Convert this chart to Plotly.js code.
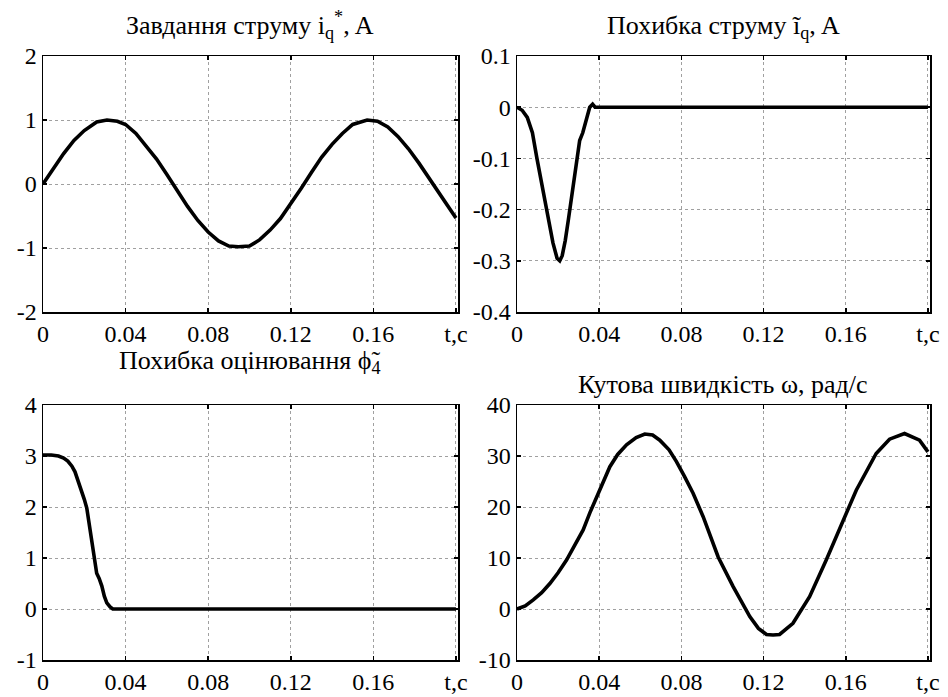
<!DOCTYPE html>
<html>
<head>
<meta charset="utf-8">
<script src="https://cdn.plot.ly/plotly-3.0.1.min.js"></script>
<style>
html,body{margin:0;padding:0;background:#fff;}
#chart{width:948px;height:697px;}
#chart svg text{font-family:'Liberation Serif','Times New Roman',serif !important;}
</style>
</head>
<body>
<div id="chart"></div>
<script>
// ---- data ----
const tIq = [0, 0.005, 0.01, 0.015, 0.02, 0.026, 0.031, 0.036, 0.04, 0.045, 0.05, 0.055, 0.06, 0.065, 0.07, 0.075, 0.08, 0.085, 0.09, 0.0946, 0.1, 0.105, 0.11, 0.115, 0.12, 0.125, 0.13, 0.135, 0.14, 0.145, 0.15, 0.157, 0.162, 0.167, 0.172, 0.177, 0.182, 0.187, 0.192, 0.196, 0.2];
const iqRef = [0, 0.245, 0.475, 0.68, 0.835, 0.97, 1.0, 0.98, 0.93, 0.79, 0.6, 0.39, 0.15, -0.11, -0.35, -0.57, -0.75, -0.89, -0.97, -0.98, -0.97, -0.87, -0.72, -0.54, -0.31, -0.07, 0.18, 0.42, 0.62, 0.79, 0.93, 1.0, 0.98, 0.89, 0.74, 0.55, 0.33, 0.09, -0.16, -0.35, -0.53];

const tErr = [0, 0.0025, 0.005, 0.0075, 0.0097, 0.0125, 0.015, 0.0175, 0.0195, 0.0208, 0.022, 0.0235, 0.025, 0.027, 0.0285, 0.0294, 0.0305, 0.032, 0.0335, 0.0354, 0.0368, 0.038, 0.2];
const iqErr = [0, -0.006, -0.02, -0.05, -0.1, -0.16, -0.215, -0.265, -0.295, -0.3, -0.29, -0.26, -0.22, -0.16, -0.12, -0.1, -0.065, -0.05, -0.03, 0, 0.006, 0, 0];

const tPhi = [0, 0.004, 0.0075, 0.01, 0.012, 0.014, 0.0155, 0.017, 0.0188, 0.02, 0.0212, 0.0225, 0.0236, 0.025, 0.026, 0.0272, 0.0285, 0.0297, 0.0309, 0.0325, 0.0338, 0.035, 0.2];
const phiErr = [3.02, 3.02, 3.0, 2.96, 2.9, 2.8, 2.69, 2.52, 2.3, 2.15, 1.98, 1.65, 1.34, 1.0, 0.7, 0.6, 0.45, 0.25, 0.12, 0.04, 0.0, 0.0, 0.0];

const tW = [0, 0.004, 0.0079, 0.012, 0.016, 0.02, 0.0241, 0.028, 0.0322, 0.0355, 0.0387, 0.042, 0.0452, 0.049, 0.0533, 0.058, 0.0622, 0.066, 0.0695, 0.074, 0.0776, 0.0815, 0.0857, 0.0906, 0.0979, 0.1052, 0.1133, 0.1175, 0.1214, 0.1246, 0.1278, 0.1343, 0.1424, 0.1505, 0.1586, 0.1651, 0.1748, 0.1813, 0.1886, 0.1959, 0.2];
const omega = [0, 0.6, 1.8, 3.2, 5.0, 7.1, 9.6, 12.4, 15.5, 18.9, 22, 25.2, 27.9, 30.3, 32.2, 33.6, 34.3, 34.1, 33.1, 31.2, 28.9, 26.0, 22.7, 18.1, 10.2, 4.4, -1.5, -3.8, -5.0, -5.1, -5.0, -2.8, 2.4, 9.6, 17.4, 23.3, 30.5, 33.3, 34.4, 33.1, 30.8];

const xTickVals = [0, 0.04, 0.08, 0.12, 0.16, 0.2];
const xTickText = ['0', '0.04', '0.08', '0.12', '0.16', 't,c'];
const yTicks1 = [-2, -1, 0, 1, 2];
const yTicks2 = [-0.4, -0.3, -0.2, -0.1, 0, 0.1];
const yTicks2Text = ['-0.4', '-0.3', '-0.2', '-0.1', '0', '0.1'];
const yTicks3 = [-1, 0, 1, 2, 3, 4];
const yTicks4 = [-10, 0, 10, 20, 30, 40];

const titles = [
  'Завдання струму i<sub>q</sub><sup>*</sup>, A',
  'Похибка струму ĩ<sub>q</sub>, A',
  'Похибка оцінювання ϕ̃<sub>4</sub>',
  'Кутова швидкість ω, рад/с'
];

// ---- figure ----
const W = 948, H = 697;
const FONT = 'Liberation Serif';
function fnt(size) { return {family: FONT, size: size, color: '#000'}; }

const traces = [
  {x: tIq, y: iqRef, xaxis: 'x', yaxis: 'y'},
  {x: tErr, y: iqErr, xaxis: 'x2', yaxis: 'y2'},
  {x: tPhi, y: phiErr, xaxis: 'x3', yaxis: 'y3'},
  {x: tW, y: omega, xaxis: 'x4', yaxis: 'y4'}
].map(t => Object.assign(t, {type: 'scatter', mode: 'lines', line: {color: '#000', width: 3.6}, hoverinfo: 'skip'}));

function px2x(a, b) { return [a / W, b / W]; }
function px2y(top, bottom) { return [1 - bottom / H, 1 - top / H]; }

function common() {
  return {
    showline: true, linecolor: '#000', linewidth: 1.5, mirror: 'ticks',
    ticks: 'inside', ticklen: 4, tickwidth: 1.5, tickcolor: '#000',
    showgrid: true, gridcolor: '#a0a0a0', griddash: 'dot', gridwidth: 1,
    zeroline: false, tickfont: fnt(24), fixedrange: true
  };
}
function xa(domain, anchor) {
  return Object.assign(common(), {domain: domain, anchor: anchor, range: [0, 0.201],
    tickmode: 'array', tickvals: xTickVals, ticktext: xTickText});
}
function ya(domain, anchor, vals, text, range) {
  return Object.assign(common(), {domain: domain, anchor: anchor, range: range,
    tickmode: 'array', tickvals: vals, ticktext: text || vals.map(String)});
}

const dxL = px2x(43, 458), dxR = px2x(517, 930);
const dyT = px2y(56, 312), dyB = px2y(405, 660);

// title bottoms (px from top)
const titleBottoms = [45, 45, 380, 401];

const layout = {
  width: W, height: H,
  margin: {l: 0, r: 0, t: 0, b: 0},
  paper_bgcolor: '#fff', plot_bgcolor: '#fff',
  showlegend: false,
  font: fnt(24),
  xaxis: xa(dxL, 'y'), yaxis: ya(dyT, 'x', yTicks1, null, [-2, 2]),
  xaxis2: xa(dxR, 'y2'), yaxis2: ya(dyT, 'x2', yTicks2, yTicks2Text, [-0.4, 0.1]),
  xaxis3: xa(dxL, 'y3'), yaxis3: ya(dyB, 'x3', yTicks3, null, [-1, 4]),
  xaxis4: xa(dxR, 'y4'), yaxis4: ya(dyB, 'x4', yTicks4, null, [-10, 40]),
  annotations: [
    {text: titles[0], x: (dxL[0] + dxL[1]) / 2, y: 1 - titleBottoms[0] / H},
    {text: titles[1], x: (dxR[0] + dxR[1]) / 2, y: 1 - titleBottoms[1] / H},
    {text: titles[2], x: (dxL[0] + dxL[1]) / 2, y: 1 - titleBottoms[2] / H},
    {text: titles[3], x: (dxR[0] + dxR[1]) / 2, y: 1 - titleBottoms[3] / H}
  ].map(a => Object.assign(a, {xref: 'paper', yref: 'paper', xanchor: 'center', yanchor: 'bottom',
    showarrow: false, font: fnt(26)}))
};

Plotly.newPlot('chart', traces, layout, {staticPlot: true, displayModeBar: false});
</script>
</body>
</html>
